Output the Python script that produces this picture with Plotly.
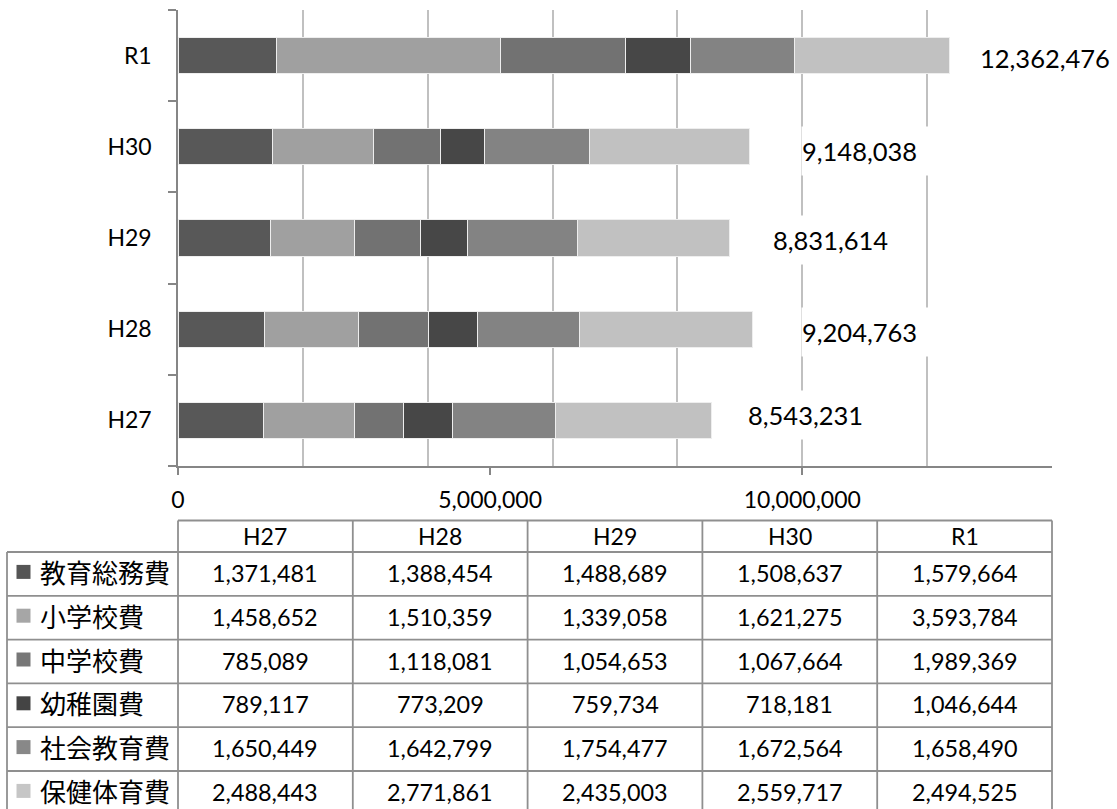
import plotly.graph_objects as go

# Fiscal years (bottom to top on the chart, left to right in the table)
CATEGORIES = ["H27", "H28", "H29", "H30", "R1"]

# Expenditure items (thousand yen), one list per item over the fiscal years
SERIES_NAMES = ["教育総務費", "小学校費", "中学校費", "幼稚園費", "社会教育費", "保健体育費"]
EDU_GENERAL = [1371481, 1388454, 1488689, 1508637, 1579664]
ELEMENTARY = [1458652, 1510359, 1339058, 1621275, 3593784]
JUNIOR_HIGH = [785089, 1118081, 1054653, 1067664, 1989369]
KINDERGARTEN = [789117, 773209, 759734, 718181, 1046644]
SOCIAL_EDU = [1650449, 1642799, 1754477, 1672564, 1658490]
HEALTH_PE = [2488443, 2771861, 2435003, 2559717, 2494525]
SERIES_VALUES = [EDU_GENERAL, ELEMENTARY, JUNIOR_HIGH, KINDERGARTEN, SOCIAL_EDU, HEALTH_PE]

X_TICKS = [0, 5000000, 10000000]

# ---- styling ----
COLORS = ["#585858", "#a0a0a0", "#727272", "#474747", "#838383", "#c1c1c1"]
KEY_COLORS = ["#555555", "#a6a6a6", "#777777", "#444444", "#888888", "#c6c6c6"]
LATIN = "Lato, 'Noto Sans CJK JP', sans-serif"
CJK = "'Noto Sans CJK JP', sans-serif"
AXIS_COLOR = "#868686"
GRID_COLOR = "#c0c0c0"
TABLE_LINE = "#8f8f8f"

W, H = 1117, 809
ML, MR, MT, MB = 178, 65, 10, 343
PW, PH = W - ML - MR, H - MT - MB

# per-row nudges of the total labels (pixels), H27..R1
LABEL_GAP_PX = [36, 48, 43, 52, 29]
LABEL_DY_PX = [5, -3, -2, -4, -2]


def px_x(px):
    return (px - ML) / PW


def px_y(py):
    return (MT + PH - py) / PH


fig = go.Figure()

for name, vals, col in zip(SERIES_NAMES, SERIES_VALUES, COLORS):
    fig.add_trace(go.Bar(
        x=vals, y=CATEGORIES, name=name, orientation="h",
        marker=dict(color=col, line=dict(color="#eeeeee", width=1)),
        showlegend=False, hoverinfo="x+name",
    ))

totals = [sum(v[i] for v in SERIES_VALUES) for i in range(len(CATEGORIES))]

# totals as invisible points on the labelled bottom axis (keeps that axis drawn)
fig.add_trace(go.Scatter(
    x=totals, y=CATEGORIES, xaxis="x2", yaxis="y", mode="markers",
    marker=dict(opacity=0, size=1), showlegend=False, hoverinfo="skip",
))

annotations = []
for i, (cat, tot) in enumerate(zip(CATEGORIES, totals)):
    annotations.append(dict(
        x=tot, y=cat, xref="x", yref="y", text=f"{tot:,}", showarrow=False,
        xanchor="left", yanchor="middle", align="left",
        xshift=LABEL_GAP_PX[i], yshift=LABEL_DY_PX[i],
        width=150, height=48, borderpad=0, bgcolor="white",
        font=dict(family=LATIN, size=25.5, color="black"),
    ))

# ---- data table under the chart ----
TABLE_TOP = 520.5
HEADER_BOTTOM = 552
ROW_H = 43.8
FIRST_COL_LEFT = 7
COL_W = PW / len(CATEGORIES)
n_rows = len(SERIES_NAMES)
table_bottom = HEADER_BOTTOM + ROW_H * n_rows

shapes = []
line_style = dict(color=TABLE_LINE, width=1.8)
# header top line
shapes.append(dict(type="line", xref="paper", yref="paper",
                   x0=px_x(ML), x1=px_x(ML + PW), y0=px_y(TABLE_TOP), y1=px_y(TABLE_TOP),
                   line=line_style))
# row lines
for r in range(n_rows + 1):
    yy = HEADER_BOTTOM + r * ROW_H
    shapes.append(dict(type="line", xref="paper", yref="paper",
                       x0=px_x(FIRST_COL_LEFT), x1=px_x(ML + PW), y0=px_y(yy), y1=px_y(yy),
                       line=line_style))
# first-column left edge
shapes.append(dict(type="line", xref="paper", yref="paper",
                   x0=px_x(FIRST_COL_LEFT), x1=px_x(FIRST_COL_LEFT),
                   y0=px_y(HEADER_BOTTOM), y1=px_y(table_bottom), line=line_style))
# column edges
for c in range(len(CATEGORIES) + 1):
    xx = ML + c * COL_W
    shapes.append(dict(type="line", xref="paper", yref="paper",
                       x0=px_x(xx), x1=px_x(xx), y0=px_y(TABLE_TOP), y1=px_y(table_bottom),
                       line=line_style))

# header labels
for c, cat in enumerate(CATEGORIES):
    annotations.append(dict(
        x=px_x(ML + (c + 0.5) * COL_W), y=px_y((TABLE_TOP + HEADER_BOTTOM) / 2),
        xref="paper", yref="paper", text=cat, showarrow=False,
        xanchor="center", yanchor="middle",
        font=dict(family=LATIN, size=23, color="black"),
    ))

# body rows: key square, item name, values
KEY = 14
for r, (name, vals, kc) in enumerate(zip(SERIES_NAMES, SERIES_VALUES, KEY_COLORS)):
    yc = HEADER_BOTTOM + (r + 0.5) * ROW_H
    shapes.append(dict(type="rect", xref="paper", yref="paper",
                       x0=px_x(16.5), x1=px_x(16.5 + KEY),
                       y0=px_y(yc - 2 - KEY / 2), y1=px_y(yc - 2 + KEY / 2),
                       fillcolor=kc, line=dict(width=0)))
    annotations.append(dict(
        x=px_x(38), y=px_y(yc - 2.5), xref="paper", yref="paper", text=name,
        showarrow=False, xanchor="left", yanchor="middle",
        font=dict(family=CJK, size=26, color="black"),
    ))
    for c, v in enumerate(vals):
        annotations.append(dict(
            x=px_x(ML + (c + 0.5) * COL_W), y=px_y(yc - 1), xref="paper", yref="paper",
            text=f"{v:,}", showarrow=False, xanchor="center", yanchor="middle",
            font=dict(family=LATIN, size=23.4, color="black"),
        ))

fig.update_layout(
    width=W, height=H, autosize=False,
    margin=dict(l=ML, r=MR, t=MT, b=MB, pad=0),
    paper_bgcolor="white", plot_bgcolor="white",
    barmode="stack", bargap=0.605,
    font=dict(family=LATIN, size=23, color="black"),
    xaxis=dict(
        range=[0, 14000000], tick0=0, dtick=2000000,
        showgrid=True, gridcolor=GRID_COLOR, gridwidth=1.5,
        showticklabels=False, ticks="", zeroline=False,
        showline=True, linecolor=AXIS_COLOR, linewidth=1.5,
        fixedrange=True,
    ),
    xaxis2=dict(
        overlaying="x", anchor="y", side="bottom", range=[0, 14000000],
        tickmode="array", tickvals=X_TICKS, ticktext=[f"{t:,}" for t in X_TICKS],
        ticks="outside", ticklen=8, tickwidth=1.5, tickcolor=AXIS_COLOR,
        showgrid=False, zeroline=False, showline=False, ticklabelstandoff=5,
        tickfont=dict(family=LATIN, size=23, color="black"),
        fixedrange=True,
    ),
    yaxis=dict(
        type="category", categoryorder="array", categoryarray=CATEGORIES,
        tickson="boundaries", ticks="outside", ticklen=8, tickwidth=1.5,
        tickcolor=AXIS_COLOR, showline=True, linecolor=AXIS_COLOR, linewidth=1.5,
        showgrid=False, zeroline=False, ticklabelstandoff=20,
        tickfont=dict(family=LATIN, size=23, color="black"),
        fixedrange=True,
    ),
    shapes=shapes,
    annotations=annotations,
)

fig.write_html("out.html")
